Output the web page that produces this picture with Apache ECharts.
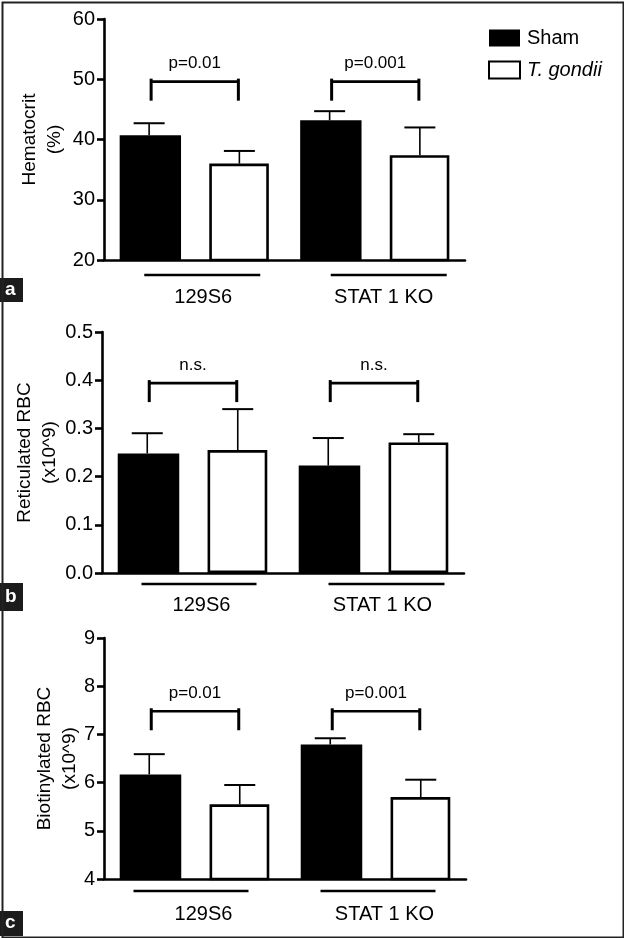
<!DOCTYPE html>
<html>
<head>
<meta charset="utf-8">
<script src="https://cdn.jsdelivr.net/npm/echarts@6/dist/echarts.min.js"></script>
<style>
html,body{margin:0;padding:0;background:#fff;}
#chart{width:624px;height:938px;}
</style>
</head>
<body>
<div id="chart"></div>
<script>
// ---- data ----
const groups = ['129S6', 'STAT 1 KO'];
const seriesNames = ['Sham', 'T. gondii'];

// Panel a: Hematocrit (%)
const hctSham = [40.7, 43.2];
const hctShamErr = [2.0, 1.5];
const hctToxo = [36.0, 37.4];
const hctToxoErr = [2.1, 4.6];
const hctBracket = [49.6, 49.6];
const hctP = ['p=0.01', 'p=0.001'];
const hctTicks = {min: 20, max: 60, interval: 10};

// Panel b: Reticulated RBC (x10^9)
const retSham = [0.248, 0.223];
const retShamErr = [0.042, 0.057];
const retToxo = [0.255, 0.271];
const retToxoErr = [0.085, 0.017];
const retBracket = [0.394, 0.394];
const retP = ['n.s.', 'n.s.'];
const retTicks = {min: 0, max: 0.5, interval: 0.1};

// Panel c: Biotinylated RBC (x10^9)
const bioSham = [6.17, 6.79];
const bioShamErr = [0.42, 0.13];
const bioToxo = [5.55, 5.70];
const bioToxoErr = [0.40, 0.36];
const bioBracket = [7.48, 7.48];
const bioP = ['p=0.01', 'p=0.001'];
const bioTicks = {min: 4, max: 9, interval: 1};

// ---- layout / style ----
const FONT = "'Liberation Sans', Arial, Helvetica, sans-serif";
const panels = [
  {letter: 'a', sham: hctSham, shamErr: hctShamErr, toxo: hctToxo, toxoErr: hctToxoErr,
   bracket: hctBracket, p: hctP, ticks: hctTicks, dec: 0, name: 'Hematocrit\n(%)',
   grid: {left: 104, top: 19, right: 159, height: 241, outerBoundsMode: 'none'}, nameGap: 37, labelMargin: 27,
   under: [[-50, 66], [-44, 72]], underGap: 15, box: [278, 24]},
  {letter: 'b', sham: retSham, shamErr: retShamErr, toxo: retToxo, toxoErr: retToxoErr,
   bracket: retBracket, p: retP, ticks: retTicks, dec: 1, name: 'Reticulated RBC\n(x10^9)',
   grid: {left: 102, top: 332, right: 160, height: 241, outerBoundsMode: 'none'}, nameGap: 40, labelMargin: 22,
   under: [[-51, 64], [-45, 71]], underGap: 11, box: [583, 28]},
  {letter: 'c', sham: bioSham, shamErr: bioShamErr, toxo: bioToxo, toxoErr: bioToxoErr,
   bracket: bioBracket, p: bioP, ticks: bioTicks, dec: 0, name: 'Biotinylated RBC\n(x10^9)',
   grid: {left: 104, top: 638, right: 158, height: 241, outerBoundsMode: 'none'}, nameGap: 22, labelMargin: 25,
   under: [[-61, 54], [-55, 60]], underGap: 12, box: [911, 25]}
];

const OFF = 0.25; // bar centre offset as a fraction of the category band

function errItem(offset) {
  return function (params, api) {
    const i = api.value(0), v = api.value(1), e = api.value(2);
    const base = api.coord([i, v]);
    const top = api.coord([i, v + e]);
    const band = api.size([1, 0])[0];
    const x = base[0] + offset * band;
    return {type: 'group', children: [
      {type: 'line', shape: {x1: x, y1: base[1], x2: x, y2: top[1]}, style: {stroke: '#000', lineWidth: 1.6}},
      {type: 'line', shape: {x1: x - 15.5, y1: top[1], x2: x + 15.5, y2: top[1]}, style: {stroke: '#000', lineWidth: 2}}
    ]};
  };
}
function bracketItem(labels) {
  return function (params, api) {
    const i = api.value(0), v = api.value(1);
    const c = api.coord([i, v]);
    const band = api.size([1, 0])[0];
    const x1 = c[0] - OFF * band + 2, x2 = c[0] + OFF * band - 1;
    return {type: 'group', children: [
      {type: 'line', shape: {x1: x1, y1: c[1], x2: x2, y2: c[1]}, style: {stroke: '#000', lineWidth: 2.6}},
      {type: 'line', shape: {x1: x1, y1: c[1] - 3, x2: x1, y2: c[1] + 19}, style: {stroke: '#000', lineWidth: 3}},
      {type: 'line', shape: {x1: x2, y1: c[1] - 3, x2: x2, y2: c[1] + 19}, style: {stroke: '#000', lineWidth: 3}},
      {type: 'text', x: (x1 + x2) / 2, y: c[1] - 18,
       style: {text: labels[params.dataIndex], fill: '#000', font: '17px ' + FONT,
               align: 'center', verticalAlign: 'middle'}}
    ]};
  };
}
function underItem(under, gap) {
  return function (params, api) {
    const i = api.value(0), v = api.value(1);
    const c = api.coord([i, v]);
    const u = under[params.dataIndex];
    return {type: 'line', shape: {x1: c[0] + u[0], y1: c[1] + gap, x2: c[0] + u[1], y2: c[1] + gap},
            style: {stroke: '#000', lineWidth: 2.6}};
  };
}

const grids = [], xAxes = [], yAxes = [], series = [], graphics = [];
panels.forEach(function (p, k) {
  grids.push(p.grid);
  xAxes.push({
    type: 'category', gridIndex: k, data: groups,
    axisLine: {lineStyle: {color: '#000', width: 2.6}},
    axisTick: {show: false},
    axisLabel: {color: '#000', fontSize: 20, fontFamily: FONT, margin: p.labelMargin, padding: [0, 0, 0, 18]}
  });
  yAxes.push({
    type: 'value', gridIndex: k, min: p.ticks.min, max: p.ticks.max, interval: p.ticks.interval,
    name: p.name, nameLocation: 'middle', nameRotate: 90, nameGap: p.nameGap, nameMoveOverlap: false,
    nameTextStyle: {color: '#000', fontSize: 19, fontFamily: FONT, lineHeight: 25},
    axisLine: {show: true, lineStyle: {color: '#000', width: 2.6}},
    axisTick: {show: true, length: 7, lineStyle: {color: '#000', width: 2.6}},
    splitLine: {show: false},
    axisLabel: {color: '#000', fontSize: 20, fontFamily: FONT, margin: 9,
                formatter: function (v) { return v.toFixed(p.dec); }}
  });
  series.push({
    name: seriesNames[0], type: 'bar', xAxisIndex: k, yAxisIndex: k,
    data: p.sham, barWidth: '34%', barGap: '46%',
    itemStyle: {color: '#000', borderColor: '#000', borderWidth: 0}
  });
  series.push({
    name: seriesNames[1], type: 'bar', xAxisIndex: k, yAxisIndex: k,
    data: p.toxo, barWidth: '33%', barGap: '46%',
    itemStyle: {color: '#fff', borderColor: '#000', borderWidth: 2.6}
  });
  series.push({
    type: 'custom', xAxisIndex: k, yAxisIndex: k, z: 5, silent: true,
    renderItem: errItem(-OFF),
    data: groups.map(function (g, i) { return [i, p.sham[i], p.shamErr[i]]; })
  });
  series.push({
    type: 'custom', xAxisIndex: k, yAxisIndex: k, z: 5, silent: true,
    renderItem: errItem(OFF),
    data: groups.map(function (g, i) { return [i, p.toxo[i], p.toxoErr[i]]; })
  });
  series.push({
    type: 'custom', xAxisIndex: k, yAxisIndex: k, z: 5, silent: true,
    renderItem: bracketItem(p.p),
    data: groups.map(function (g, i) { return [i, p.bracket[i]]; })
  });
  series.push({
    type: 'custom', xAxisIndex: k, yAxisIndex: k, z: 5, silent: true, clip: false,
    renderItem: underItem(p.under, p.underGap),
    data: groups.map(function (g, i) { return [i, p.ticks.min]; })
  });
  graphics.push({type: 'rect', left: 0, top: p.box[0], shape: {width: 23, height: p.box[1]},
                 style: {fill: '#1c1c1c'}});
  graphics.push({type: 'text', left: 5, top: p.box[0] + p.box[1] / 2 - 10,
                 style: {text: p.letter, fill: '#fff', font: 'bold 19px ' + FONT}});
});
graphics.push({type: 'rect', left: 0, top: 0, shape: {x: 1, y: 1, width: 621, height: 935},
               style: {fill: 'none', stroke: '#222', lineWidth: 2}, z: 100});

const chart = echarts.init(document.getElementById('chart'), null, {renderer: 'canvas'});
chart.setOption({
  animation: false,
  backgroundColor: '#fff',
  textStyle: {fontFamily: FONT},
  grid: grids,
  xAxis: xAxes,
  yAxis: yAxes,
  legend: {
    data: seriesNames, orient: 'vertical', left: 488, top: 28, padding: 0,
    itemWidth: 31, itemHeight: 17, itemGap: 12, icon: 'rect',
    textStyle: {color: '#000', fontSize: 20, fontFamily: FONT, padding: [0, 0, 0, 2],
                rich: {it: {fontStyle: 'italic', fontSize: 20, fontFamily: FONT, color: '#000'}}},
    formatter: function (n) { return n === 'T. gondii' ? '{it|' + n + '}' : n; },
    selectedMode: false
  },
  graphic: graphics,
  series: series
});
</script>
</body>
</html>
